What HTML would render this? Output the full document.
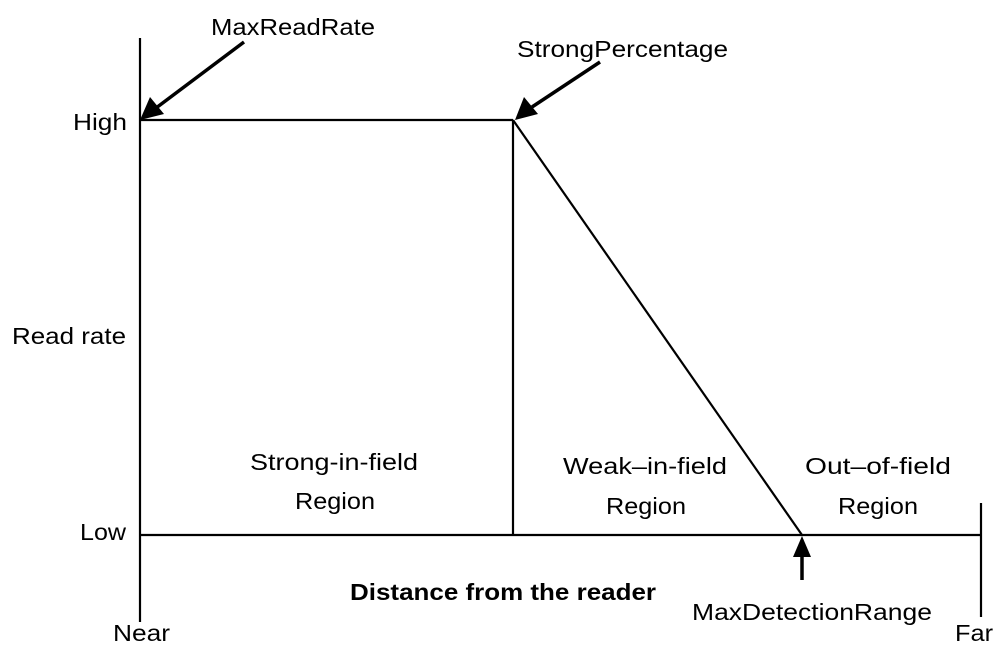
<!DOCTYPE html>
<html><head><meta charset="utf-8"><style>html,body{margin:0;padding:0;background:#fff}svg{display:block}</style></head>
<body>
<svg width="1000" height="651" viewBox="0 0 1000 651" xmlns="http://www.w3.org/2000/svg" font-family="Liberation Sans, sans-serif" font-size="23.5" fill="#000">
<g stroke="#000" stroke-width="2.2" fill="none">
<line x1="140" y1="38" x2="140" y2="622"/>
<line x1="140" y1="120" x2="513" y2="120"/>
<line x1="513" y1="120" x2="513" y2="535"/>
<line x1="513" y1="120" x2="802" y2="535"/>
<line x1="140" y1="535" x2="981" y2="535"/>
<line x1="981" y1="503" x2="981" y2="617"/>
</g>
<g stroke="#000" stroke-width="3.5">
<line x1="244" y1="42" x2="156" y2="108"/>
<line x1="600" y1="62" x2="532" y2="107"/>
<line x1="802" y1="580" x2="802" y2="555"/>
</g>
<polygon points="140,120 150,97 164,114"/>
<polygon points="515,120 524,97 538,114"/>
<polygon points="802,536 793,557 811,557"/>
<text x="211" y="35" textLength="164" lengthAdjust="spacingAndGlyphs">MaxReadRate</text>
<text x="517" y="57" textLength="211" lengthAdjust="spacingAndGlyphs">StrongPercentage</text>
<text x="73" y="130" textLength="54" lengthAdjust="spacingAndGlyphs">High</text>
<text x="12" y="344" textLength="114" lengthAdjust="spacingAndGlyphs">Read rate</text>
<text x="80" y="540" textLength="46" lengthAdjust="spacingAndGlyphs">Low</text>
<text x="113" y="641" textLength="57" lengthAdjust="spacingAndGlyphs">Near</text>
<text x="955" y="641" textLength="38" lengthAdjust="spacingAndGlyphs">Far</text>
<text x="250" y="470" textLength="168" lengthAdjust="spacingAndGlyphs">Strong-in-field</text>
<text x="295" y="509" textLength="80" lengthAdjust="spacingAndGlyphs">Region</text>
<text x="563" y="474" textLength="164" lengthAdjust="spacingAndGlyphs">Weak–in-field</text>
<text x="606" y="514" textLength="80" lengthAdjust="spacingAndGlyphs">Region</text>
<text x="805" y="474" textLength="146" lengthAdjust="spacingAndGlyphs">Out–of-field</text>
<text x="838" y="514" textLength="80" lengthAdjust="spacingAndGlyphs">Region</text>
<text x="350" y="600" font-weight="bold" textLength="306" lengthAdjust="spacingAndGlyphs">Distance from the reader</text>
<text x="692" y="620" textLength="240" lengthAdjust="spacingAndGlyphs">MaxDetectionRange</text>
</svg>
</body></html>
